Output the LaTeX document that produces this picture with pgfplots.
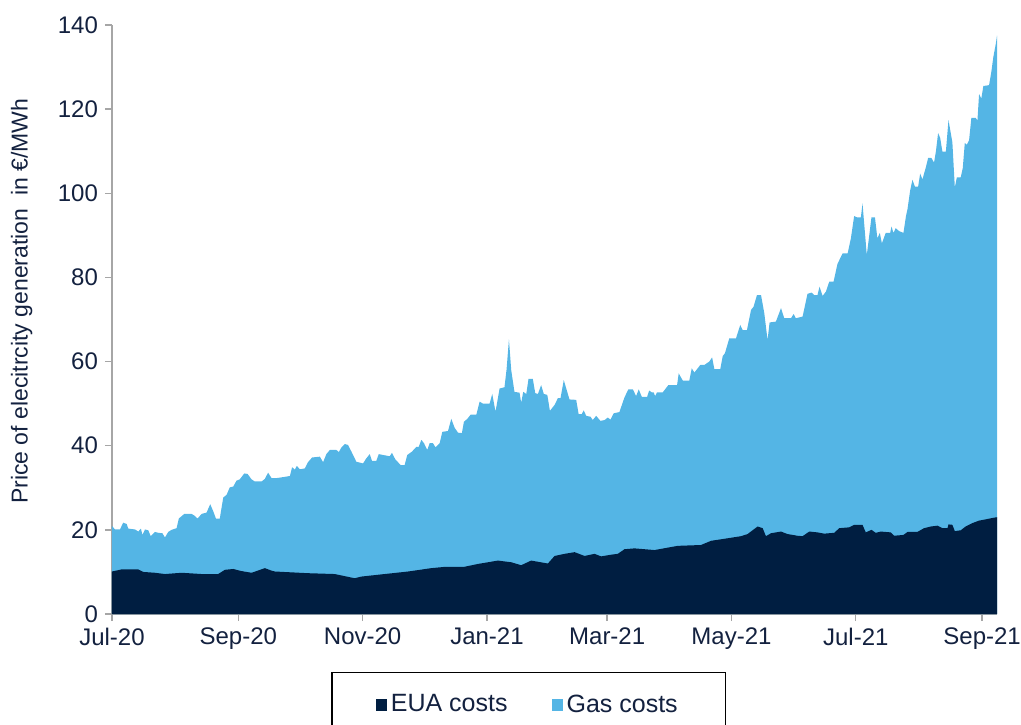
\documentclass[border=0pt]{standalone}
\usepackage{pgfplots}
\pgfplotsset{compat=1.18}
\usepackage{fontspec}
\setmainfont{Liberation Sans}
\definecolor{euac}{HTML}{001E41}
\definecolor{gasc}{HTML}{54B5E5}
\definecolor{txt}{HTML}{13213F}
\definecolor{axc}{HTML}{A6A6A6}

% x = days since 1 Jul 2020, y = EUR/MWh
\pgfplotstableread{
x y
0 20.9
1.5 20.1
3.9 20.1
5.5 21.7
7.2 21.4
8.0 20.3
11.3 20.1
12.9 19.6
14.2 20.3
14.9 18.8
16.2 20.1
17.8 19.9
19.0 18.5
21.1 19.5
22.7 19.3
24.7 19.2
26.0 18.2
27.6 19.5
29.2 20.0
31.7 20.4
32.8 22.7
35.5 23.8
39.0 23.8
40.4 23.4
42.0 22.7
44.0 23.8
46.4 24.1
48.2 26.1
49.7 24.4
51.0 22.7
52.9 22.7
54.6 27.7
56.2 28.3
57.8 30.1
59.5 30.3
61.1 31.7
62.7 32.0
64.9 33.4
66.5 33.3
68.5 32.0
70.1 31.5
73.4 31.5
75.0 32.1
76.6 33.6
78.3 32.3
80.7 32.3
84.8 32.6
87.3 32.8
88.4 34.9
89.7 34.3
90.7 35.2
92.2 34.4
94.6 34.6
96.2 36.1
98.2 37.2
102.0 37.4
103.6 36.1
105.2 38.0
106.9 39.0
110.1 39.0
111.3 38.5
112.6 39.6
114.2 40.4
115.8 40.2
117.5 38.6
119.9 36.2
123.2 35.8
124.8 37.0
126.5 38.0
127.6 36.4
129.7 36.4
130.9 38.0
133.0 37.8
136.3 37.5
137.4 38.3
139.1 36.7
141.7 35.4
143.6 35.4
144.9 37.8
147.2 38.6
149.3 39.7
150.5 39.7
151.8 41.4
153.1 40.6
154.7 39.0
155.9 40.6
157.5 40.6
158.8 39.6
160.8 40.6
162.1 43.3
164.9 43.5
166.5 46.4
168.1 44.3
169.8 43.1
171.7 43.0
172.7 45.7
174.4 46.4
176.0 47.4
178.8 47.4
180.4 50.5
182.0 50.0
185.3 50.0
186.6 52.3
188.2 48.1
190.2 53.6
192.6 53.9
193.6 58.0
194.8 65.3
195.9 58.0
197.5 52.8
200.0 52.6
200.8 50.2
201.8 52.8
203.3 52.3
204.4 55.9
206.5 55.9
207.7 52.5
209.0 52.3
210.6 54.4
211.9 52.3
213.6 52.1
214.9 48.3
217.2 49.7
218.8 51.3
220.1 51.3
221.7 55.6
224.5 51.0
227.8 50.9
229.0 47.5
230.5 47.5
231.5 48.4
232.7 47.1
234.8 46.9
235.9 46.1
237.6 47.1
239.7 45.9
241.7 46.1
243.3 46.7
244.6 46.2
246.2 47.7
249.0 48.0
251.5 51.5
253.4 53.4
255.6 53.4
257.2 51.8
258.5 53.4
260.0 51.6
262.6 51.6
263.6 53.1
264.9 52.7
265.8 52.7
266.5 51.8
267.5 52.7
270.3 52.7
273.0 54.4
277.3 54.4
278.1 57.2
280.1 55.5
283.3 55.5
284.5 58.4
285.8 57.4
288.7 59.2
290.7 59.2
293.1 60.0
294.5 61.0
295.6 58.2
298.5 58.2
299.7 61.3
300.8 62.0
302.9 65.5
306.2 65.5
308.3 68.7
309.5 67.5
311.6 67.5
313.6 72.3
314.8 73.0
316.5 75.8
318.5 75.8
320.1 71.5
321.7 65.1
322.7 69.3
325.8 69.5
328.3 72.7
329.9 70.3
333.2 70.3
334.5 71.3
335.6 70.3
338.9 70.7
341.3 76.1
343.3 76.4
344.6 75.8
346.2 75.8
347.2 77.8
348.7 75.6
350.3 76.6
352.0 79.0
354.1 79.0
356.0 83.2
358.5 85.7
361.0 85.7
362.6 89.3
364.2 94.6
365.5 94.3
367.5 94.3
368.3 97.6
370.4 85.3
372.7 94.3
374.4 94.3
375.6 89.3
376.8 90.6
377.8 88.1
379.7 90.6
381.9 90.6
382.5 92.1
383.5 90.6
384.6 91.7
386.3 91.0
388.4 90.6
389.6 94.5
390.4 96.3
391.7 100.7
392.8 103.2
394.0 101.6
395.6 101.6
396.6 104.7
397.7 103.3
399.4 106.2
400.5 108.4
402.1 108.4
403.4 107.3
404.3 109.9
405.4 114.3
406.4 113.2
407.5 109.9
409.2 109.9
410.5 117.4
412.4 112.1
413.6 101.4
414.6 103.8
416.5 103.8
417.5 106.0
418.5 112.0
419.4 111.5
420.6 112.6
421.7 117.9
423.9 117.9
424.7 117.3
425.5 123.6
426.6 122.5
427.6 125.5
430.4 125.7
431.5 128.8
432.5 132.4
433.7 135.5
434.3 137.5
}\total

\pgfplotstableread{
x y
0 10.1
4.7 10.6
12.9 10.6
15.4 10.0
21.1 9.8
26.0 9.5
34.2 9.8
44.0 9.5
52.1 9.5
55.4 10.5
59.5 10.7
63.6 10.2
68.5 9.8
75.0 10.9
78.3 10.3
80.0 10.1
96.2 9.7
109.3 9.5
119.1 8.5
122.4 8.9
133.8 9.5
145.3 10.1
156.7 10.9
163.2 11.2
172.7 11.2
179.6 11.9
189.4 12.7
195.9 12.3
200.8 11.6
205.7 12.7
213.9 12.0
217.2 13.8
222.1 14.3
227.0 14.7
231.9 13.8
236.8 14.3
240.0 13.7
245.0 14.1
248.2 14.3
251.5 15.4
256.4 15.6
266.2 15.2
277.6 16.2
289.0 16.4
294.0 17.4
302.1 18.0
308.7 18.5
311.9 19.0
316.8 20.8
319.3 20.4
320.9 18.5
323.4 19.2
328.3 19.6
331.5 19.0
336.4 18.6
338.9 18.5
342.2 19.6
346.2 19.4
349.5 19.1
354.4 19.3
356.9 20.4
361.8 20.6
364.2 21.2
368.3 21.2
369.9 19.4
372.7 20.0
374.8 19.3
377.3 19.6
382.2 19.4
383.8 18.6
388.4 18.8
390.4 19.5
395.2 19.5
398.5 20.4
401.8 20.8
405.1 21.0
407.5 20.4
410.0 20.4
410.5 21.3
412.4 21.2
413.6 19.7
416.5 19.9
418.9 20.8
422.2 21.6
425.5 22.2
428.8 22.5
432.8 22.9
434.3 23.0
}\eua

\begin{document}
\begin{tikzpicture}
\begin{axis}[
  name=ax,
  scale only axis, width=442.5pt, height=294.5pt,
  xmin=0, xmax=434.3, ymin=0, ymax=140,
  axis x line*=bottom, axis y line*=left,
  axis line style={axc, line width=0.7pt, -},
  xtick={0,62,123,184,243,304,365,427},
  xticklabels={Jul-20,Sep-20,Nov-20,Jan-21,Mar-21,May-21,Jul-21,Sep-21},
  ytick={0,20,...,140},
  tick align=outside, major tick length=3.5pt,
  tick style={axc, line width=0.7pt},
  ticklabel style={font=\fontsize{12}{14}\selectfont, text=txt},
  /pgf/number format/assume math mode=true,
  ylabel={Price of elecitrcity generation~ in €/MWh},
  every axis y label/.style={at={(axis description cs:-0.102,0.531)}, rotate=90, anchor=center, font=\fontsize{11.5}{13}\selectfont, text=txt},
  legend columns=2,
  reverse legend,
  legend image code/.code={\fill[#1] (0pt,-3pt) rectangle (5.5pt,3pt);},
  legend style={at={(axis description cs:0.471,-0.0985)}, anchor=north,
    draw=black, line width=0.6pt, inner xsep=22pt, inner ysep=9pt,
    font=\fontsize{12.5}{14}\selectfont, text=txt,
    /tikz/every even column/.append style={column sep=20pt}},
]
\addplot[fill=gasc, draw=none] table {\total} \closedcycle;
\addlegendentry{Gas costs}
\addplot[fill=euac, draw=none] table {\eua} \closedcycle;
\addlegendentry{EUA costs}
\end{axis}
\pgfresetboundingbox
\path ([shift={(-56pt,-55pt)}]ax.south west) rectangle ([shift={(12pt,12.5pt)}]ax.north east);
\end{tikzpicture}
\end{document}
